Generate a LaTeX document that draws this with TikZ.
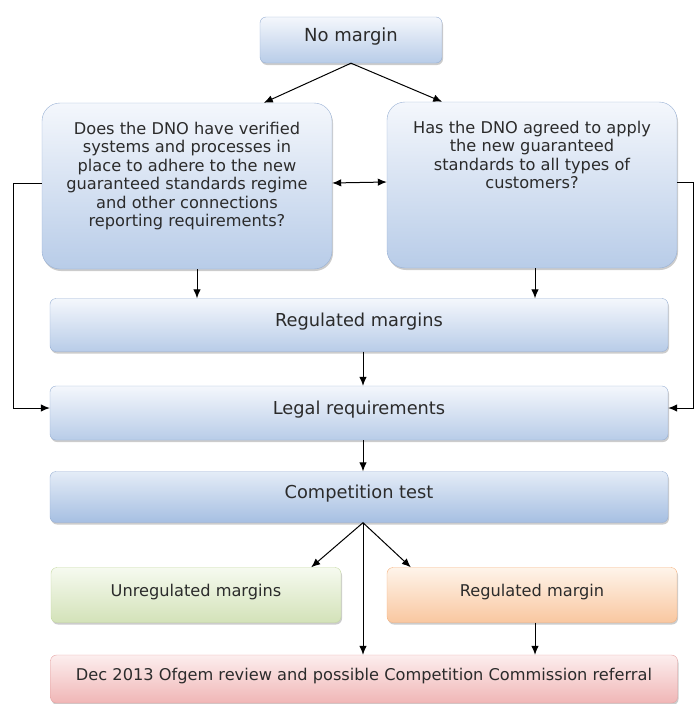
\documentclass[tikz,border=0pt]{standalone}
\usepackage{fontspec}
\setmainfont{DejaVu Sans}
\usetikzlibrary{arrows.meta,shadows}
\definecolor{TextGray}{HTML}{2B2B2B}
\definecolor{BoxLine}{HTML}{98B0D4}
\definecolor{BoxTop}{HTML}{F4F7FC}
\definecolor{BoxBot}{HTML}{B8CCE8}
\definecolor{CompTop}{HTML}{E4ECF7}
\definecolor{CompBot}{HTML}{A6BFE2}
\definecolor{GreenLine}{HTML}{C5D9A2}
\definecolor{GreenTop}{HTML}{F6FAEF}
\definecolor{GreenBot}{HTML}{D3E2B8}
\definecolor{OrangeLine}{HTML}{F5B27E}
\definecolor{OrangeTop}{HTML}{FEF4EA}
\definecolor{OrangeBot}{HTML}{F9C7A0}
\definecolor{RedLine}{HTML}{E5A3A3}
\definecolor{RedTop}{HTML}{FCEEEE}
\definecolor{RedBot}{HTML}{F0B6B6}
\newcommand{\qtext}[1]{\parbox[c][166pt][t]{284pt}{\centering\vspace*{19pt}#1}}

\begin{document}
\begin{tikzpicture}[x=1pt,y=-1pt,
    every node/.style={font=\fontsize{16.2}{18.5}\selectfont, text=TextGray},
    box/.style={draw=BoxLine, rounded corners=6pt, top color=BoxTop, bottom color=BoxBot,
        drop shadow={opacity=0.4, shadow xshift=1pt, shadow yshift=-2pt}},
    onebox/.style={box, text height=8pt, text depth=5pt},
    widebox/.style={onebox, minimum width=618pt, font=\fontsize{17.8}{20}\selectfont},
    qbox/.style={box, rounded corners=18pt, inner sep=0pt, minimum width=290pt, minimum height=166pt},
    arr/.style={-{Latex[length=9pt,width=7.5pt]}, line width=1pt},
    both/.style={{Latex[length=9pt,width=7.5pt]}-{Latex[length=9pt,width=7.5pt]}, line width=1pt}]
    \useasboundingbox (0,0) rectangle (694,704);

%   boxes
    \node[onebox, minimum width=182pt, minimum height=46pt, font=\fontsize{18}{20}\selectfont] (nomargin) at (351,40) {No margin};
    \node[qbox] (qleft) at (187,186) {\qtext{Does the DNO have verified\\ systems and processes in\\ place to adhere to the new\\ guaranteed standards regime\\ and other connections\\ reporting requirements?}};
    \node[qbox] (qright) at (532,185) {\qtext{Has the DNO agreed to apply\\ the new guaranteed\\ standards to all types of\\ customers?}};
    \node[widebox, minimum height=53pt] (regm) at (359,325) {Regulated margins};
    \node[widebox, minimum height=54pt] (legal) at (359,413) {Legal requirements};
    \node[widebox, minimum height=51pt, top color=CompTop, bottom color=CompBot] (comp) at (359,497) {Competition test};
    \node[onebox, minimum width=290pt, minimum height=55pt, draw=GreenLine, top color=GreenTop, bottom color=GreenBot] (unreg) at (196,595) {Unregulated margins};
    \node[onebox, minimum width=290pt, minimum height=55pt, draw=OrangeLine, top color=OrangeTop, bottom color=OrangeBot] (regmg) at (532,595) {Regulated margin};
    \node[onebox, minimum width=627pt, minimum height=48pt, draw=RedLine, top color=RedTop, bottom color=RedBot] (dec) at (364,679) {Dec 2013 Ofgem review and possible Competition Commission referral};

%   arrows
    \draw[arr] (nomargin.south) -- ([xshift=4pt]qleft.north -| nomargin.west);
    \draw[arr] (nomargin.south) -- (qright.north -| nomargin.east);
    \draw[both] ([yshift=3pt]qleft.east) -- ([yshift=3pt]qright.west);
    \draw[arr] ([yshift=3pt]qleft.west) -- ++(-28,0) |- ([yshift=5pt]legal.west);
    \draw[arr] ([yshift=3pt]qright.east) -- ++(16,0) |- ([yshift=5pt]legal.east);
    \draw[arr] ([xshift=10pt]qleft.south) -- ([xshift=10pt]qleft.south |- regm.north);
    \draw[arr] ([xshift=3pt]qright.south) -- ([xshift=3pt]qright.south |- regm.north);
    \draw[arr] ([xshift=4pt]regm.south) -- ([xshift=4pt]legal.north);
    \draw[arr] ([xshift=4pt]legal.south) -- ([xshift=4pt]comp.north);
    \coordinate (fork) at ([xshift=4pt]comp.south);
    \draw[arr] (fork) -- ([xshift=-30pt]unreg.north east);
    \draw[arr] (fork) -- ([xshift=24pt]regmg.north west);
    \draw[arr] (fork) -- (fork |- dec.north);
    \draw[arr] ([xshift=3pt]regmg.south) -- ([xshift=3pt]regmg.south |- dec.north);
\end{tikzpicture}
\end{document}
